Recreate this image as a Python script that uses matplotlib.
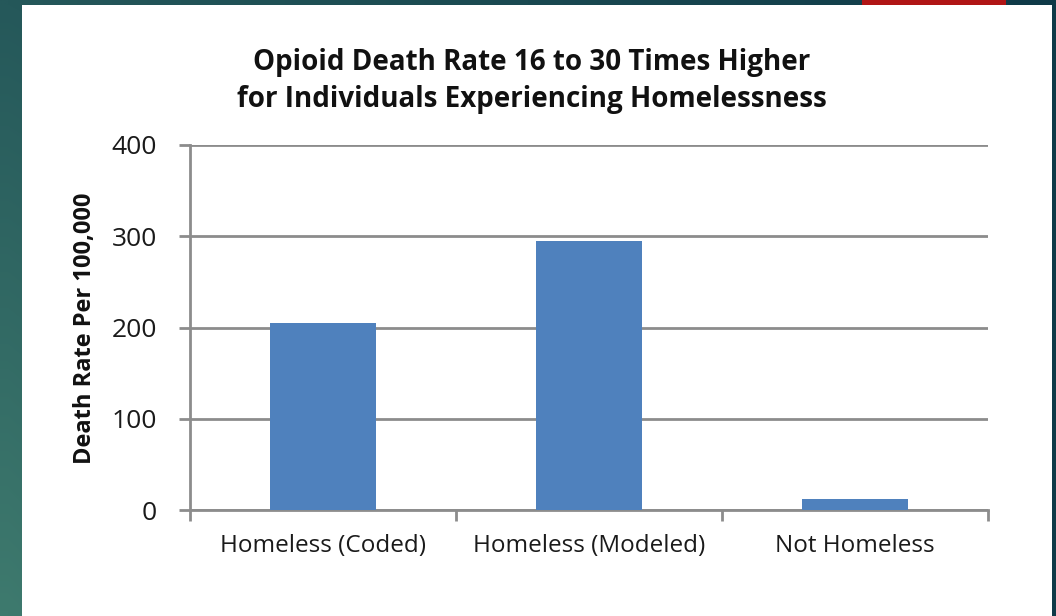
import numpy as np
import matplotlib
matplotlib.use("Agg")
import matplotlib.pyplot as plt
from matplotlib.patches import Rectangle

categories = ["Homeless (Coded)", "Homeless (Modeled)", "Not Homeless"]
death_rates = [205, 295, 12]
y_ticks = [0, 100, 200, 300, 400]
title = "Opioid Death Rate 16 to 30 Times Higher\nfor Individuals Experiencing Homelessness"
y_label = "Death Rate Per 100,000"

W, H = 1056, 616
fig = plt.figure(figsize=(W / 100, H / 100), dpi=100)

# background gradient
bg = fig.add_axes([0, 0, 1, 1], zorder=-10)
bg.set_axis_off()
ny, nx = 64, 64
yy = np.linspace(0, 1, ny)[:, None]
xx = np.linspace(0, 1, nx)[None, :]
left_col = np.array([37, 88, 90]) * (1 - yy[..., None]) + np.array([62, 122, 110]) * yy[..., None]
right_col = np.array([15, 58, 72])
img = left_col * (1 - xx[..., None]) + right_col * xx[..., None]
bg.imshow(img / 255.0, aspect="auto", extent=[0, 1, 1, 0], interpolation="bilinear")
bg.set_xlim(0, 1)
bg.set_ylim(1, 0)
bg.add_patch(Rectangle((22 / W, 0), (1052 - 22) / W, 1 - 5 / H,
                       transform=fig.transFigure, facecolor="white", edgecolor="none", zorder=5))
bg.add_patch(Rectangle((862 / W, 1 - 5 / H), (1006 - 862) / W, 5 / H,
                       transform=fig.transFigure, facecolor="#b01515", edgecolor="none", zorder=5))

ax = fig.add_axes([190 / W, 106 / H, (988 - 190) / W, (510 - 145) / H], zorder=1)
ax.set_facecolor("none")
x = np.arange(len(categories))
ax.bar(x, death_rates, width=0.4, color="#4f81bd", zorder=3)
ax.set_xlim(-0.5, len(categories) - 0.5)
ax.set_ylim(0, 400)
ax.set_yticks(y_ticks)
ax.set_yticklabels([str(v) for v in y_ticks], fontsize=19, color="#1a1a1a", family="Open Sans")
ax.yaxis.grid(True, color="#8c8c8c", linewidth=2, zorder=0)
ax.set_xticks(x)
ax.set_xticklabels(categories, fontsize=17.5, color="#1a1a1a", family="Open Sans")
ax.set_xticks(np.arange(-0.5, len(categories)), minor=True)
ax.tick_params(axis="x", which="major", length=0, pad=17)
ax.tick_params(axis="x", which="minor", length=8, width=2, color="#8c8c8c")
ax.tick_params(axis="y", length=8, width=2, color="#8c8c8c", pad=16)
for s in ["top", "right"]:
    ax.spines[s].set_visible(False)
for s in ["left", "bottom"]:
    ax.spines[s].set_color("#8c8c8c")
    ax.spines[s].set_linewidth(2)

fig.text(85 / W, 1 - 328 / H, y_label, rotation=90, ha="center", va="center",
         fontsize=17, fontweight="bold", color="#111111", family="Open Sans")
fig.text(532 / W, 1 - 81 / H, title, ha="center", va="center", fontsize=20,
         fontweight="bold", color="#111111", family="Open Sans", linespacing=1.4)

fig.savefig("out.png", dpi=100)
